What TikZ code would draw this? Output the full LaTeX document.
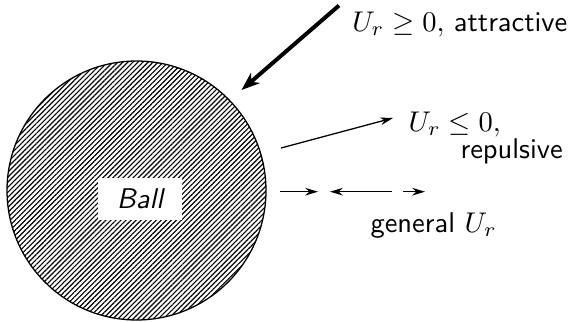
\documentclass[tikz,border=0pt]{standalone}
\usetikzlibrary{arrows.meta,patterns.meta}
\begin{document}
\begin{tikzpicture}[x=0.351pt,y=-0.351pt,
  lbl/.style={inner sep=0pt,anchor=base west,font=\sffamily},
  thinarrow/.style={line width=0.45pt,-{Stealth[length=4.5pt,width=2.7pt]}},
  thickarrow/.style={line width=1.4pt,-{Stealth[length=6.5pt,width=4.8pt]}},
  ]
\useasboundingbox (0,0) rectangle (572,321);
\node[circle,draw,line width=0.45pt,minimum size=90.9pt,inner sep=0pt,
  pattern={Lines[angle=45,distance=1.25pt,line width=0.4pt]}] (ball) at (136.5,190.5) {};
\node[fill=white,minimum width=29.5pt,minimum height=14.7pt,inner sep=0pt,font=\sffamily\itshape] (balllabel) at (140,199) {Ball};
% thick arrow
\coordinate (a1) at (339,5.5);
\coordinate (a2) at (241.5,90);
\draw[thickarrow] (a1) -- (a2);
% thin arrow
\coordinate (b1) at (281,148);
\coordinate (b2) at (393,118);
\draw[thinarrow] (b1) -- (b2);
% small arrows
\coordinate (c1) at (280,191.7);
\coordinate (c2) at (318,191.7);
\coordinate (c3) at (391.7,191.7);
\coordinate (c4) at (330,191.7);
\coordinate (c5) at (403,191.7);
\coordinate (c6) at (425,191.7);
\draw[thinarrow] (c1) -- (c2);
\draw[thinarrow] (c3) -- (c4);
\draw[thinarrow] (c5) -- (c6);
% labels
\node[lbl] (att) at (351.7,31) {$U_r \geq 0,$ attractive};
\node[lbl] (rep1) at (408,131) {$U_r \leq 0,$};
\node[lbl] (rep2) at (460,158) {repulsive};
\node[lbl] (gen) at (370,232) {general $U_r$};
\end{tikzpicture}
\end{document}
